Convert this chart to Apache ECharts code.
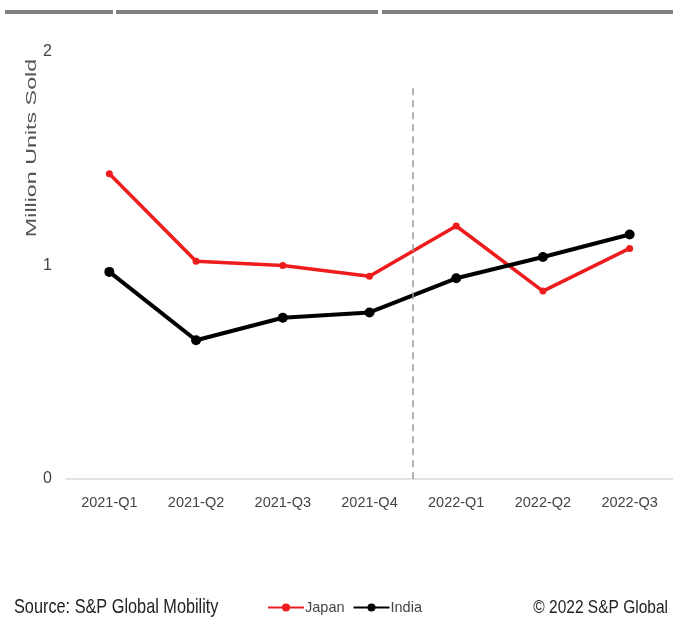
<!DOCTYPE html>
<html><head><meta charset="utf-8">
<script src="https://cdn.jsdelivr.net/npm/echarts@6/dist/echarts.min.js"></script>
<style>html,body{margin:0;padding:0;background:#fff}#c{width:673px;height:622px}</style>
</head><body><div id="c"></div>
<script>
const categories = ['2021-Q1','2021-Q2','2021-Q3','2021-Q4','2022-Q1','2022-Q2','2022-Q3'];
const japan = [1.43, 1.02, 1.00, 0.95, 1.185, 0.88, 1.08];
const india = [0.97, 0.65, 0.755, 0.78, 0.94, 1.04, 1.145];
const yTicks = [0, 1, 2];
const dividerAt = 4;      // boundary between 2021-Q4 and 2022-Q1 (category edges)
const dividerTop = 1.83;

const chart = echarts.init(document.getElementById('c'));
const font = '"Liberation Sans", Arial, sans-serif';
chart.setOption({
  animation: false,
  textStyle: { fontFamily: font },
  grid: { left: 66, right: 0, top: 52, bottom: 143 },
  graphic: [
    { type: 'line', shape: { x1: 5, y1: 12, x2: 113, y2: 12 }, style: { stroke: '#808080', lineWidth: 4 } },
    { type: 'line', shape: { x1: 116, y1: 12, x2: 378, y2: 12 }, style: { stroke: '#808080', lineWidth: 4 } },
    { type: 'line', shape: { x1: 382, y1: 12, x2: 673, y2: 12 }, style: { stroke: '#808080', lineWidth: 4 } },
    { type: 'text', x: 32, y: 148, rotation: Math.PI / 2, scaleX: 1.5,
      style: { text: 'Million Units Sold', font: '15.5px ' + font, fill: '#555', align: 'center', verticalAlign: 'middle' } },
    { type: 'text', x: 14, y: 598, scaleY: 1.2,
      style: { text: 'Source: S&P Global Mobility', font: '16.3px ' + font, fill: '#222', verticalAlign: 'top' } },
    { type: 'text', x: 668, y: 598, scaleY: 1.2,
      style: { text: '© 2022 S&P Global', font: '15.5px ' + font, fill: '#222', align: 'right', verticalAlign: 'top' } }
  ],
  legend: {
    data: ['Japan', 'India'],
    left: 262, top: 595,
    itemWidth: 36, itemHeight: 10, itemGap: 8,
    textStyle: { fontSize: 14.5, color: '#444', fontFamily: font, padding: [0, 0, 0, -4] }
  },
  xAxis: [{
    type: 'category', data: categories, boundaryGap: true,
    axisLine: { lineStyle: { color: '#d9d9d9', width: 1.5 } },
    axisTick: { show: false },
    axisLabel: { color: '#444', fontSize: 14.5, margin: 16, interval: 0, fontFamily: font }
  }, {
    type: 'value', min: 0, max: categories.length, show: false
  }],
  yAxis: {
    type: 'value', min: 0, max: 2, interval: 1,
    splitLine: { show: false },
    axisLine: { show: false }, axisTick: { show: false },
    axisLabel: { color: '#444', fontSize: 16, margin: 14, fontFamily: font,
      formatter: v => yTicks.includes(v) ? String(v) : '' }
  },
  series: [
    {
      name: 'Japan', type: 'line', data: japan,
      symbol: 'circle', symbolSize: 7,
      lineStyle: { color: '#ee1c1c', width: 3.5 },
      itemStyle: { color: '#ee1c1c' }
    },
    {
      name: 'India', type: 'line', data: india,
      symbol: 'circle', symbolSize: 10,
      lineStyle: { color: '#000', width: 4 },
      itemStyle: { color: '#000' }
    },
    {
      name: 'divider', type: 'line', xAxisIndex: 1, data: [], silent: true,
      markLine: {
        silent: true, symbol: 'none', label: { show: false },
        lineStyle: { color: '#999', type: [7, 5], width: 1.5 },
        data: [[{ coord: [dividerAt, dividerTop] }, { coord: [dividerAt, 0] }]]
      }
    }
  ]
});
</script></body></html>
